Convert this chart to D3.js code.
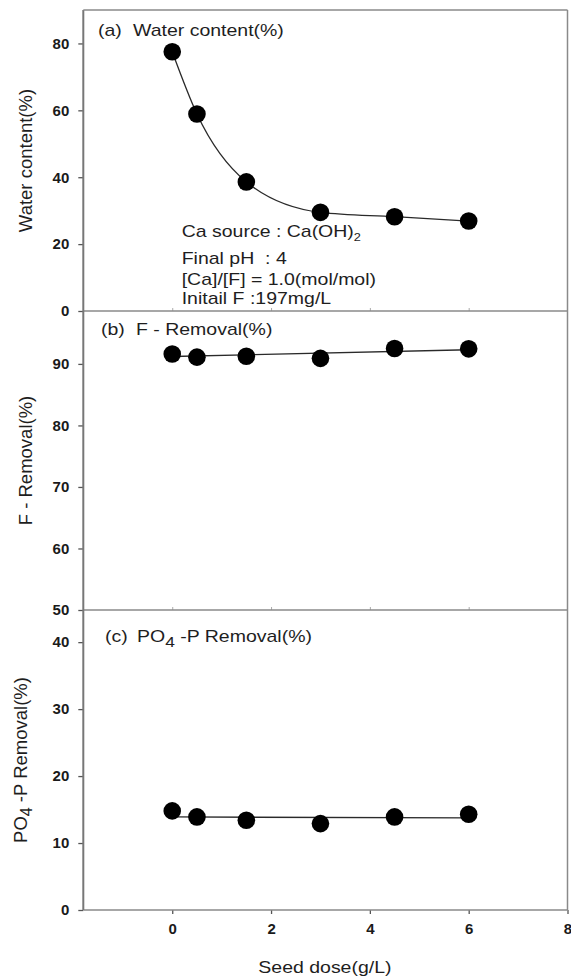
<!DOCTYPE html>
<html>
<head>
<meta charset="utf-8">
<script src="https://cdn.jsdelivr.net/npm/d3@7"></script>
<style>
  body { margin: 0; background: #fff; }
  svg { display: block; font-family: "Liberation Sans", Arial, sans-serif; }
  text { white-space: pre; }
</style>
</head>
<body>
<svg id="chart"></svg>
<script>
// data
const seedDose = [0, 0.5, 1.5, 3, 4.5, 6];
const waterContent = [77.5, 58.9, 38.6, 29.5, 28.2, 26.9];
const fRemoval = [91.6, 91.1, 91.25, 90.9, 92.5, 92.45];
const po4Removal = [14.8, 13.9, 13.4, 12.9, 13.9, 14.3];

// straight fit lines drawn in panels (b) and (c)
const fitDose = [0, 6];
const fRemovalFit = [91.2, 92.3];
const po4RemovalFit = [13.9, 13.75];

const xTicks = [0, 2, 4, 6, 8];
const waterTicks = [0, 20, 40, 60, 80];
const fTicks = [50, 60, 70, 80, 90];
const po4Ticks = [0, 10, 20, 30, 40];

const notes = ["Ca source : Ca(OH)", "Final pH  : 4", "[Ca]/[F] = 1.0(mol/mol)", "Initail F :197mg/L"];

const width = 571, height = 977;
const left = 83.3, right = 567.5;
const frameColor = "#8a8a8a";
const stretch = 1.16; // horizontal texts look a bit wide in the picture

const svg = d3.select("#chart").attr("width", width).attr("height", height);

const x = d3.scaleLinear().domain([-1.8, 8]).range([left, right]);

const panels = [
  { top: 10, bottom: 311, domain: [0, 90], ticks: waterTicks, values: waterContent, fit: null,
    tag: "(a)", tagX: 98, titleX: 133, titleY: 36, yTitle: "Water content(%)", yTitleX: 31.5 },
  { top: 311, bottom: 610, domain: [50, 98.6], ticks: fTicks, values: fRemoval, fit: fRemovalFit,
    tag: "(b)", tagX: 101, titleX: 136, titleY: 334.5, yTitle: "F - Removal(%)", yTitleX: 31.5 },
  { top: 610, bottom: 910, domain: [0, 44.8], ticks: po4Ticks, values: po4Removal, fit: po4RemovalFit,
    tag: "(c)", tagX: 105, titleX: 137, titleY: 641.5, yTitle: "PO4", yTitleX: 27 }
];

function wideText(g, px, py, size) {
  return g.append("text")
    .attr("transform", `translate(${px},${py}) scale(${stretch},1)`)
    .attr("font-size", size)
    .attr("fill", "#1e1e1e");
}

panels.forEach((p, i) => {
  const y = d3.scaleLinear().domain(p.domain).range([p.bottom, p.top]);
  const g = svg.append("g");

  // y axis
  const ay = g.append("g")
    .attr("transform", `translate(${left},0)`)
    .call(d3.axisLeft(y).tickValues(p.ticks).tickSize(5).tickPadding(9));
  ay.select(".domain").remove();
  ay.selectAll("line").attr("stroke", "#555").attr("stroke-width", 1.3);
  ay.selectAll("text")
    .attr("font-family", "'Liberation Sans', Arial, sans-serif")
    .attr("font-size", 15).attr("font-weight", "bold").attr("fill", "#1a1a1a");

  // x ticks
  if (i < 2) {
    const ax = g.append("g")
      .attr("transform", `translate(0,${p.bottom})`)
      .call(d3.axisBottom(x).tickValues([0, 2, 4, 6]).tickSize(-3).tickFormat(""));
    ax.select(".domain").remove();
    ax.selectAll("line").attr("stroke", "#aaa");
  } else {
    const ax = g.append("g")
      .attr("transform", `translate(0,${p.bottom})`)
      .call(d3.axisBottom(x).tickValues(xTicks).tickSize(4).tickPadding(9));
    ax.select(".domain").remove();
    ax.selectAll("line").attr("stroke", "#555").attr("stroke-width", 1.3);
    ax.selectAll("text")
      .attr("font-family", "'Liberation Sans', Arial, sans-serif")
      .attr("font-size", 15).attr("font-weight", "bold").attr("fill", "#1a1a1a");
  }

  // frame
  g.append("line").attr("x1", left).attr("x2", right).attr("y1", p.bottom).attr("y2", p.bottom)
    .attr("stroke", frameColor).attr("stroke-width", 1.5);
  g.append("line").attr("x1", right).attr("x2", right).attr("y1", p.top).attr("y2", p.bottom)
    .attr("stroke", frameColor).attr("stroke-width", 1.5);

  // line
  const pts = seedDose.map((d, k) => [d, p.values[k]]);
  const line = d3.line().x(d => x(d[0])).y(d => y(d[1]));
  if (p.fit) {
    g.append("path")
      .datum(fitDose.map((d, k) => [d, p.fit[k]]))
      .attr("d", line)
      .attr("fill", "none").attr("stroke", "#2a2a2a").attr("stroke-width", 1.4);
  } else {
    g.append("path")
      .datum(pts)
      .attr("d", line.curve(d3.curveMonotoneX))
      .attr("fill", "none").attr("stroke", "#2a2a2a").attr("stroke-width", 1.3);
  }

  // points
  g.selectAll("circle")
    .data(pts)
    .enter()
    .append("circle")
    .attr("cx", d => x(d[0]))
    .attr("cy", d => y(d[1]))
    .attr("r", 8.8)
    .attr("fill", "#000");

  // panel title
  wideText(g, p.tagX, p.titleY, 16.8).text(p.tag);
  const t = wideText(g, p.titleX, p.titleY, 16.8);
  if (i === 0) t.text("Water content(%)");
  if (i === 1) t.text("F - Removal(%)");
  if (i === 2) {
    t.append("tspan").text("PO");
    t.append("tspan").attr("font-size", 15).attr("dy", 5).text("4");
    t.append("tspan").attr("dy", -5).text(" -P Removal(%)");
  }

  // y title
  const yt = g.append("text")
    .attr("transform", `translate(${p.yTitleX},${(p.top + p.bottom) / 2}) rotate(-90)`)
    .attr("text-anchor", "middle")
    .attr("font-size", 18.5)
    .attr("fill", "#1e1e1e");
  if (i === 2) {
    yt.append("tspan").text("PO");
    yt.append("tspan").attr("font-size", 16).attr("dy", 5).text("4");
    yt.append("tspan").attr("dy", -5).text(" -P Removal(%)");
  } else {
    yt.text(p.yTitle);
  }
});

// left axis line and top border
svg.append("line").attr("x1", left).attr("x2", left).attr("y1", 10).attr("y2", 910)
  .attr("stroke", "#777").attr("stroke-width", 2);
svg.append("line").attr("x1", left).attr("x2", right).attr("y1", 10).attr("y2", 10)
  .attr("stroke", frameColor).attr("stroke-width", 1.5);

// notes in panel (a)
const noteY = [237, 264, 285, 304];
notes.forEach((n, k) => {
  const t = wideText(svg, 181.7, noteY[k], 16.8);
  t.append("tspan").text(n);
  if (k === 0) t.append("tspan").attr("font-size", 11).attr("dy", 4).text("2");
});

// x title
wideText(svg, 258.3, 973, 16.8).text("Seed dose(g/L)");
</script>
</body>
</html>
